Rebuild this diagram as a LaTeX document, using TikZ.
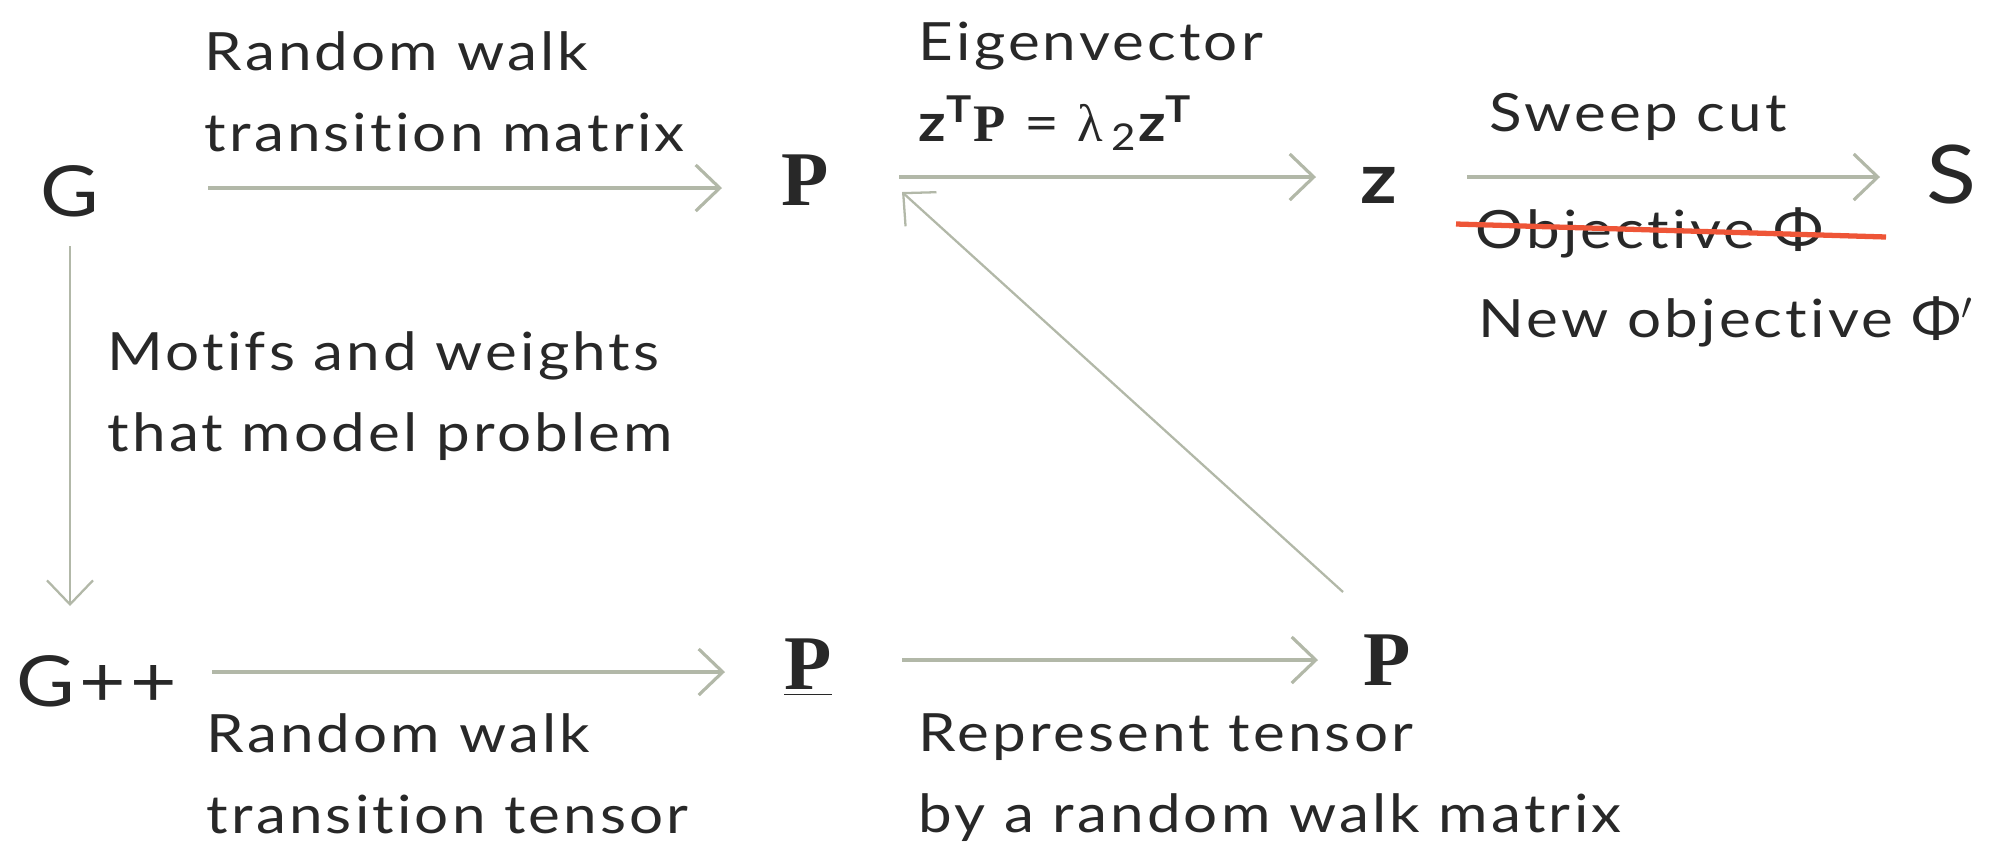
\documentclass[tikz,border=0pt]{standalone}
\usepackage{fontspec}
\setmainfont{Lato}[FakeStretch=1.14,LetterSpace=6,Ligatures=NoCommon]
\newfontfamily\symbfont{Liberation Serif}
\usetikzlibrary{arrows.meta}
\definecolor{arrclr}{RGB}{178,184,168}
\definecolor{txtclr}{RGB}{40,40,40}
\definecolor{strikeclr}{RGB}{238,85,55}
\tikzset{
  vtx/.style={inner sep=0pt,text=txtclr,font=\fontsize{20}{24}\selectfont},
  bvtx/.style={vtx,font=\fontsize{22}{26}\selectfont\symbfont\bfseries},
  zvtx/.style={vtx,font=\fontsize{20}{24}\selectfont\bfseries},
  lbl/.style={anchor=north west,inner sep=0pt,align=left,text=txtclr,
              font=\fontsize{15}{23}\selectfont},
  arr/.style={draw=arrclr,line width=0.9pt,
              -{Straight Barb[length=2.4mm,width=4.6mm]}},
  thinarr/.style={arr,line width=0.65pt},
  strike/.style={draw=strikeclr,line width=1.5pt},
}

\begin{document}
\begin{tikzpicture}[x=0.01cm,y=-0.01cm]
\useasboundingbox (0,0) rectangle (1998,848);

% main objects
\node[vtx]  (G)   at (70,191)   {G};
\node[bvtx] (P)   at (805,180)  {P};
\node[zvtx] (z)   at (1379,185) {z};
\node[vtx,font=\fontsize{23}{26}\selectfont] (S) at (1951,175) {S};
\node[vtx]  (Gpp) at (97,681)   {G++};
\node[bvtx] (Pt)  at (808,668)  {\underline{P}};
\node[bvtx] (Pw)  at (1387,660) {P};

% labels
\node[lbl] (rwm) at (204,31)   {Random walk\\transition matrix};
\node[lbl] (eig) at (918,21)   {Eigenvector\\
  \textbf{z\textsuperscript{T}}{\symbfont\bfseries P} =
  {\symbfont λ}\,\textsubscript{2}\textbf{z\textsuperscript{T}}};
\node[lbl] (swp) at (1489,93)  {Sweep cut};
\node[lbl] (obj) at (1475,207) {Objective Φ};
\node[lbl] (nob) at (1478,296) {New objective Φ$'$};
\node[lbl] (mot) at (107,331)  {Motifs and weights\\that model problem};
\node[lbl] (rwt) at (206,713)  {Random walk\\transition tensor};
\node[lbl] (rep) at (918,713)  {Represent tensor\\by a random walk matrix};

% arrows
\draw[arr] ([shift={(138,-3)}]G.center) -- ([shift={(-83,8)}]P.center);
\draw[arr] ([shift={(94,-3)}]P.center) -- ([shift={(-63,-8)}]z.center);
\draw[arr] ([shift={(88,-8)}]z.center) -- ([shift={(-71,2)}]S.center);
\draw[thinarr] ([shift={(0,55)}]G.center) -- ([shift={(-27,-75)}]Gpp.center);
\draw[arr] ([shift={(115,-9)}]Gpp.center) -- ([shift={(-83,4)}]Pt.center);
\draw[arr] ([shift={(94,-8)}]Pt.center) -- ([shift={(-69,0)}]Pw.center);
\draw[thinarr] ([shift={(-44,-68)}]Pw.center) -- ([shift={(97,12)}]P.center);

% crossed-out objective
\draw[strike] ([shift={(-19,17)}]obj.north west) -- ([shift={(411,30)}]obj.north west);
\end{tikzpicture}
\end{document}
